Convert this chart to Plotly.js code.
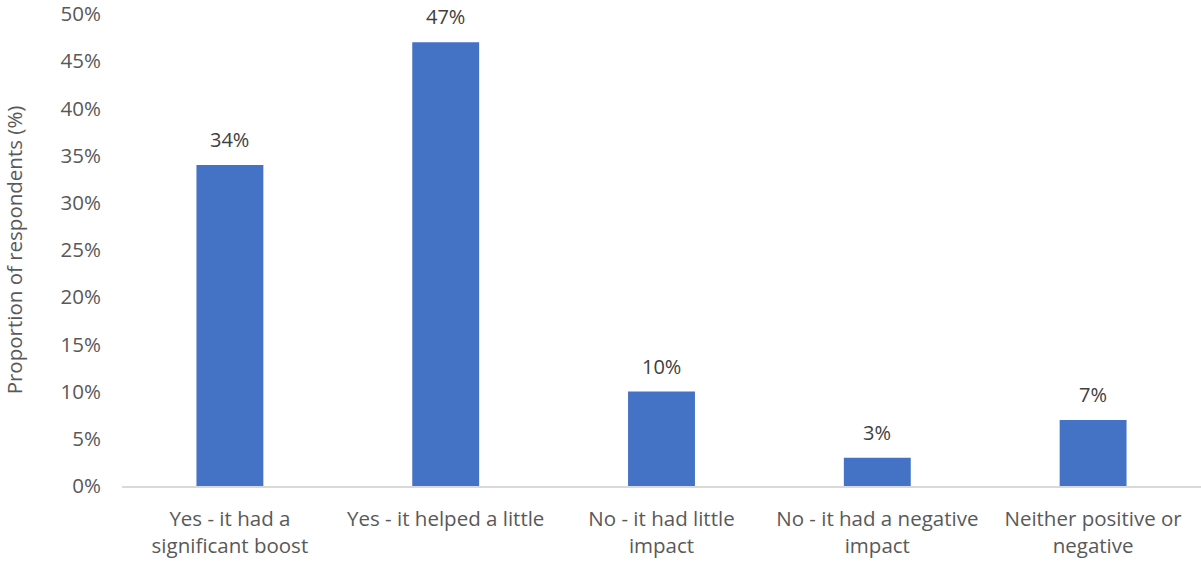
<!DOCTYPE html>
<html>
<head>
<meta charset="utf-8">
<script src="https://cdn.plot.ly/plotly-3.0.1.min.js"></script>
<style>html,body{margin:0;padding:0;background:#fff;}#chart{width:1201px;height:561px;}</style>
</head>
<body>
<div id="chart"></div>
<script>
const categories = [
  "Yes - it had a<br>significant boost",
  "Yes - it helped a little",
  "No - it had little<br>impact",
  "No - it had a negative<br>impact",
  "Neither positive or<br>negative"
];
const values = [34, 47, 10, 3, 7];
const valueLabels = ["34%", "47%", "10%", "3%", "7%"];
const yTickVals = [0, 5, 10, 15, 20, 25, 30, 35, 40, 45, 50];
const yTickText = ["0%", "5%", "10%", "15%", "20%", "25%", "30%", "35%", "40%", "45%", "50%"];

const FONT = "Open Sans, Liberation Sans, sans-serif";

const trace = {
  type: "bar",
  x: categories,
  y: values,
  marker: {color: "#4472C4"},
  width: 0.31,
  hoverinfo: "skip"
};

const annotations = categories.map((c, i) => ({
  x: c, y: values[i], xref: "x", yref: "y",
  text: valueLabels[i], showarrow: false,
  yanchor: "bottom", yshift: 10,
  font: {family: FONT, size: 20, color: "#404040"}
}));

const layout = {
  width: 1201, height: 561,
  margin: {l: 122, r: 0, t: 14, b: 75},
  paper_bgcolor: "#ffffff", plot_bgcolor: "#ffffff",
  showlegend: false,
  xaxis: {
    type: "category",
    showline: true, linecolor: "#d9d9d9", linewidth: 1.5,
    showgrid: false, zeroline: false, ticks: "",
    tickfont: {family: FONT, size: 20.5, color: "#595959"},
    ticklabelstandoff: 14
  },
  yaxis: {
    range: [0, 50],
    tickvals: yTickVals, ticktext: yTickText,
    showline: false, showgrid: false, zeroline: false, ticks: "",
    tickfont: {family: FONT, size: 20.5, color: "#595959"},
    ticklabelstandoff: 20,
    ticklabeloverflow: "allow",
    title: {text: "Proportion of respondents (%)", font: {family: FONT, size: 20.5, color: "#595959"}, standoff: 33}
  },
  annotations: annotations
};

Plotly.newPlot("chart", [trace], layout, {staticPlot: true, displayModeBar: false});
</script>
</body>
</html>
